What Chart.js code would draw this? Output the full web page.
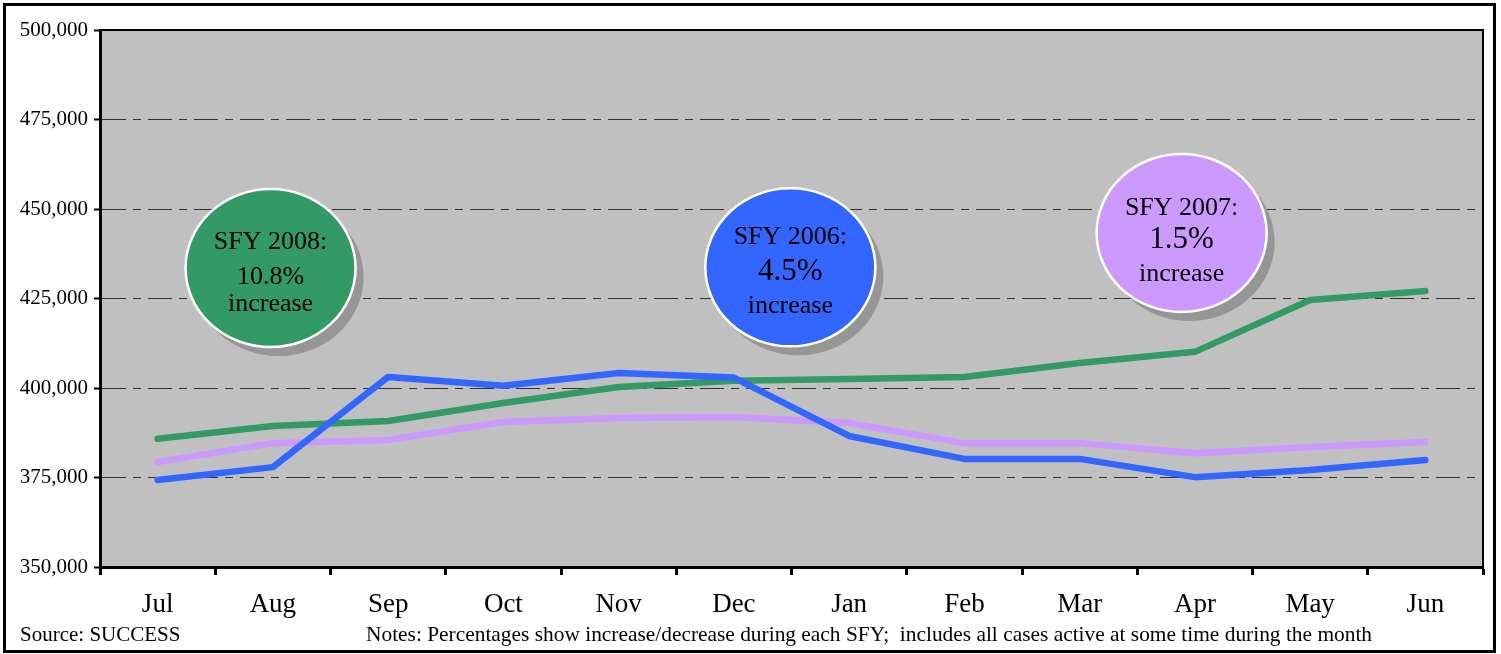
<!DOCTYPE html>
<html>
<head>
<meta charset="utf-8">
<script src="https://cdn.jsdelivr.net/npm/chart.js@4/dist/chart.umd.min.js"></script>
<style>
    body { margin: 0; background: #fff; }
    canvas { display: block; }
</style>
</head>
<body>
<canvas id="lineChart" width="1501" height="654"></canvas>
<script>
const months = ["Jul", "Aug", "Sep", "Oct", "Nov", "Dec", "Jan", "Feb", "Mar", "Apr", "May", "Jun"];

const sfy2006 = [374300, 377900, 403100, 400600, 404200, 402900, 386600, 380200, 380200, 375100, 377100, 379900];
const sfy2007 = [379300, 384600, 385500, 390500, 391600, 391900, 390200, 384600, 384600, 381800, 383500, 384900];
const sfy2008 = [385800, 389400, 390800, 395800, 400300, 402000, 402500, 403100, 407000, 410100, 424600, 427100];

const yTicks = [350000, 375000, 400000, 425000, 450000, 475000, 500000];

const sourceNote = "Source: SUCCESS";
const mainNote = "Notes: Percentages show increase/decrease during each SFY;  includes all cases active at some time during the month";

// bubble callouts: [category position, value position, fill, lines]
const bubbles = [
    { x: 0.98, y: 433500, fill: "#339966", lines: [["SFY 2008:", 26, -26], ["10.8%", 26, 9], ["increase", 26, 36]] },
    { x: 5.49, y: 433700, fill: "#3366FF", lines: [["SFY 2006:", 26, -30], ["4.5%", 31, 5], ["increase", 26, 39]] },
    { x: 8.885, y: 443300, fill: "#CC99FF", lines: [["SFY 2007:", 26, -25], ["1.5%", 31, 7], ["increase", 26, 41]] }
];

const serif = "'Liberation Serif', 'DejaVu Serif', serif";

const backdrop = {
    id: "backdrop",
    beforeDraw(chart) {
        const ctx = chart.ctx;
        const a = chart.chartArea;
        ctx.save();
        ctx.fillStyle = "#fff";
        ctx.fillRect(0, 0, chart.width, chart.height);
        ctx.fillStyle = "#C0C0C0";
        ctx.fillRect(a.left, a.top, a.right - a.left, a.bottom - a.top);
        ctx.restore();
    },
    afterDatasetsDraw(chart) {
        const ctx = chart.ctx;
        const a = chart.chartArea;
        const xs = chart.scales.x;
        const ys = chart.scales.y;

        ctx.save();
        bubbles.forEach(b => {
            const cx = xs.getPixelForValue(b.x);
            const cy = ys.getPixelForValue(b.y);
            ctx.fillStyle = "#969696";
            ctx.beginPath();
            ctx.ellipse(cx + 8, cy + 9, 85, 79, 0, 0, Math.PI * 2);
            ctx.fill();
            ctx.fillStyle = b.fill;
            ctx.strokeStyle = "#fff";
            ctx.lineWidth = 2.5;
            ctx.beginPath();
            ctx.ellipse(cx, cy, 85, 79, 0, 0, Math.PI * 2);
            ctx.fill();
            ctx.stroke();
            ctx.fillStyle = "#000";
            ctx.textAlign = "center";
            ctx.textBaseline = "middle";
            b.lines.forEach(l => {
                ctx.font = l[1] + "px " + serif;
                ctx.fillText(l[0], cx, cy + l[2]);
            });
        });

        // top and right edges of the plot box
        ctx.strokeStyle = "#000";
        ctx.lineWidth = 2;
        ctx.beginPath();
        ctx.moveTo(a.left, a.top);
        ctx.lineTo(a.right, a.top);
        ctx.lineTo(a.right, a.bottom);
        ctx.stroke();
        ctx.restore();
    },
    afterDraw(chart) {
        const ctx = chart.ctx;
        ctx.save();
        ctx.fillStyle = "#000";
        ctx.textAlign = "left";
        ctx.textBaseline = "alphabetic";
        ctx.font = "21px " + serif;
        ctx.fillText(sourceNote, 20, 641);
        ctx.font = "21.4px " + serif;
        ctx.fillText(mainNote, 366, 641);
        ctx.strokeStyle = "#000";
        ctx.lineWidth = 3;
        ctx.strokeRect(4.5, 4.5, 1490, 647);
        ctx.restore();
    }
};

function lineSet(label, data, color) {
    return {
        label: label,
        data: data,
        borderColor: color,
        backgroundColor: color,
        borderWidth: 6.5,
        borderCapStyle: "round",
        borderJoinStyle: "round",
        pointRadius: 0,
        tension: 0,
        fill: false
    };
}

new Chart(
    document.getElementById("lineChart"),
    {
        type: "line",
        data: {
            labels: months,
            datasets: [
                lineSet("SFY 2006", sfy2006, "#3366FF"),
                lineSet("SFY 2008", sfy2008, "#339966"),
                lineSet("SFY 2007", sfy2007, "#CC99FF")
            ]
        },
        options: {
            responsive: false,
            devicePixelRatio: 1,
            animation: false,
            layout: { padding: { left: 0, right: 18, top: 30, bottom: 27 } },
            plugins: {
                legend: { display: false },
                tooltip: { enabled: false }
            },
            scales: {
                x: {
                    offset: true,
                    afterFit: s => { s.height = 60; },
                    grid: {
                        offset: true,
                        drawOnChartArea: false,
                        drawTicks: true,
                        tickLength: 8,
                        tickWidth: 3,
                        tickColor: "#000"
                    },
                    border: { color: "#000", width: 3 },
                    ticks: {
                        color: "#000",
                        padding: 14,
                        maxRotation: 0,
                        font: { family: serif, size: 27 }
                    }
                },
                y: {
                    min: 350000,
                    max: 500000,
                    afterFit: s => { s.width = 100; },
                    afterBuildTicks: s => { s.ticks = yTicks.map(v => ({ value: v })); },
                    grid: {
                        color: "#333",
                        lineWidth: 1,
                        tickLength: 6,
                        tickWidth: 2,
                        tickColor: "#000",
                        tickBorderDash: []
                    },
                    border: { color: "#000", width: 3, dash: [24, 7, 8, 7] },
                    ticks: {
                        color: "#000",
                        padding: 6,
                        font: { family: serif, size: 21 },
                        callback: v => v.toLocaleString("en-US")
                    }
                }
            }
        },
        plugins: [backdrop]
    }
);
</script>
</body>
</html>
